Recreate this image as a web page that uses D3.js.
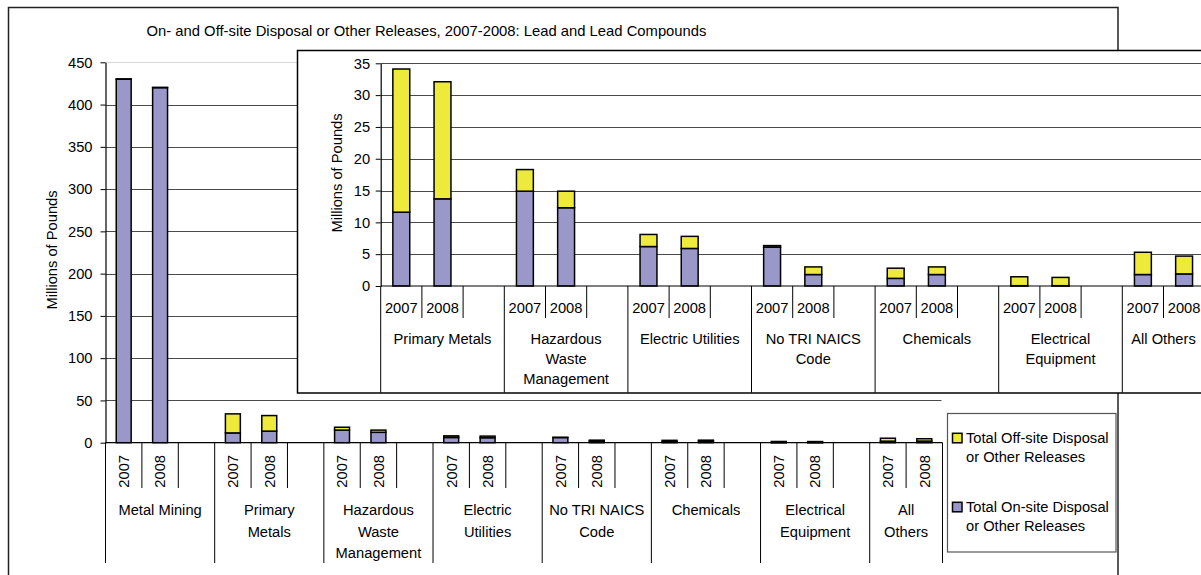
<!DOCTYPE html>
<html>
<head>
<meta charset="utf-8">
<script src="https://cdn.jsdelivr.net/npm/d3@7/dist/d3.min.js"></script>
<style>
  html, body { margin: 0; padding: 0; background: #fff; }
  svg { display: block; }
  text { font-family: "Liberation Sans", Arial, sans-serif; fill: #000; }
</style>
</head>
<body>
<svg id="chart" width="1201" height="575"></svg>
<script>
// ---------------- DATA ----------------
const chartTitle = "On- and Off-site Disposal or Other Releases, 2007-2008: Lead and Lead Compounds";
const yTitle = "Millions of Pounds";
const years = ["2007", "2008"];
const categories = ["Metal Mining", "Primary Metals", "Hazardous Waste Management", "Electric Utilities",
  "No TRI NAICS Code", "Chemicals", "Electrical Equipment", "All Others"];
const mainLabelLines = [["Metal Mining"], ["Primary", "Metals"], ["Hazardous", "Waste", "Management"],
  ["Electric", "Utilities"], ["No TRI NAICS", "Code"], ["Chemicals"], ["Electrical", "Equipment"], ["All", "Others"]];
const insetLabelLines = [["Primary Metals"], ["Hazardous", "Waste", "Management"], ["Electric Utilities"],
  ["No TRI NAICS", "Code"], ["Chemicals"], ["Electrical", "Equipment"], ["All Others"]];
// Millions of pounds
const onSite2007  = [430, 11.6, 14.9, 6.2, 6.1, 1.2, 0.05, 1.8];
const onSite2008  = [420, 13.7, 12.3, 5.9, 1.8, 1.8, 0.05, 1.9];
const offSite2007 = [0.4, 22.5, 3.4, 1.9, 0.25, 1.6, 1.4, 3.5];
const offSite2008 = [0.3, 18.4, 2.6, 1.9, 1.2, 1.2, 1.3, 2.8];
const mainTicks = [0, 50, 100, 150, 200, 250, 300, 350, 400, 450];
const insetTicks = [0, 5, 10, 15, 20, 25, 30, 35];
const legendItems = [
  { key: "off", lines: ["Total Off-site Disposal", "or Other Releases"] },
  { key: "on",  lines: ["Total On-site Disposal", "or Other Releases"] }
];

// ---------------- STYLE ----------------
const colors = { on: "#9a97c9", off: "#eeea3c" };
const FS = 14.7;

const svg = d3.select("#chart");

// records per category/year
function records(catIdx) {
  const out = [];
  catIdx.forEach((i) => {
    out.push({ slot: i + "|2007", cat: i, year: "2007", on: onSite2007[i], off: offSite2007[i] });
    out.push({ slot: i + "|2008", cat: i, year: "2008", on: onSite2008[i], off: offSite2008[i] });
  });
  return out;
}
function slotKeys(catIdx) {
  const keys = [];
  catIdx.forEach((i, j) => {
    keys.push(i + "|2007", i + "|2008");
    if (j < catIdx.length - 1) keys.push(i + "|gap");
  });
  return keys;
}
const stack = d3.stack().keys(["on", "off"]);

// ---------------- OUTER FRAME + TITLE ----------------
svg.append("rect").attr("x", 8.5).attr("y", 7.5).attr("width", 1109.5).attr("height", 620)
  .attr("fill", "#fff").attr("stroke", "#222").attr("stroke-width", 1.5);

svg.append("text").attr("x", 426.5).attr("y", 36).attr("text-anchor", "middle")
  .style("font-size", "14.8px").text(chartTitle);

// ---------------- generic chart drawer ----------------
function drawChart(g, opt) {
  const keys = slotKeys(opt.cats);
  const x = d3.scaleBand().domain(keys).range(opt.xRange).paddingInner(0).paddingOuter(0);
  const y = d3.scaleLinear().domain(opt.yDomain).range(opt.yRange);
  const step = x.step();
  const bw = step * 0.41;

  // gridlines
  g.append("g").selectAll("line").data(opt.ticks.filter(t => t > 0)).join("line")
    .attr("x1", opt.xRange[0]).attr("x2", opt.gridEnd)
    .attr("y1", d => Math.round(y(d)) + 0.5).attr("y2", d => Math.round(y(d)) + 0.5)
    .attr("stroke", d => (d === opt.yDomain[1] && opt.lightTop) ? "#d8d8d8" : "#4a4a4a")
    .attr("stroke-width", 1);

  // bars
  const recs = records(opt.cats);
  const series = stack(recs);
  g.append("g").selectAll("g").data(series).join("g")
    .attr("fill", s => colors[s.key])
    .selectAll("rect").data(s => s).join("rect")
    .attr("x", d => x(d.data.slot) + (step - bw) / 2)
    .attr("width", bw)
    .attr("y", d => y(d[1]))
    .attr("height", d => Math.max(0, y(d[0]) - y(d[1])))
    .attr("stroke", "#000").attr("stroke-width", 1.5);

  // y axis
  const ax = g.append("g").attr("transform", `translate(${opt.xRange[0]},0)`)
    .call(d3.axisLeft(y).tickValues(opt.ticks).tickSize(5).tickPadding(opt.tickPad).tickSizeOuter(0));
  ax.select(".domain").attr("stroke", "#000").attr("stroke-width", 1.2);
  ax.selectAll(".tick line").attr("stroke", "#000");
  ax.selectAll(".tick text").style("font-size", FS + "px").style("font-family", '"Liberation Sans", Arial, sans-serif');

  // x axis baseline
  g.append("line").attr("x1", opt.xRange[0]).attr("x2", opt.xRange[1])
    .attr("y1", y(0)).attr("y2", y(0)).attr("stroke", "#000").attr("stroke-width", 1.2);

  // dividers
  const nSlots = keys.length;
  const divs = d3.range(nSlots + 1).map(k => ({ k, pos: opt.xRange[0] + k * step, long: (k % 3 === 0) || k === nSlots }));
  g.append("g").selectAll("line").data(divs).join("line")
    .attr("x1", d => d.pos).attr("x2", d => d.pos)
    .attr("y1", y(0)).attr("y2", d => d.long ? opt.longEnd : opt.shortEnd)
    .attr("stroke", "#000").attr("stroke-width", 1);

  // year labels
  const yl = g.append("g").selectAll("text").data(recs).join("text")
    .style("font-size", FS + "px").text(d => d.year);
  if (opt.rotateYears) {
    yl.attr("transform", d => `translate(${x(d.slot) + step / 2},${opt.yearPos}) rotate(-90)`)
      .attr("text-anchor", "end").attr("dy", "0.36em");
  } else {
    yl.attr("x", d => x(d.slot) + step / 2).attr("y", opt.yearPos)
      .attr("text-anchor", "middle").attr("dy", "0.36em");
  }

  // category labels
  opt.cats.forEach((ci, j) => {
    const first = x(ci + "|2007");
    const cx = first + step; // center of the 2007+2008 pair ... adjust for 3-slot groups
    const groupSlots = (j < opt.cats.length - 1) ? 3 : 2;
    const center = first + step * groupSlots / 2;
    const t = g.append("text").attr("text-anchor", "middle").style("font-size", FS + "px");
    opt.labels[j].forEach((ln, li) => {
      t.append("tspan").attr("x", center).attr("y", opt.labelY + li * opt.labelGap)
        .attr("dy", "0.36em").text(ln);
    });
  });

  // y title
  g.append("text").attr("transform", `translate(${opt.yTitleX},${opt.yTitleY}) rotate(-90)`)
    .attr("text-anchor", "middle").attr("dy", "0.36em").style("font-size", FS + "px").text(yTitle);
}

// ---------------- MAIN CHART ----------------
const mainG = svg.append("g");
drawChart(mainG, {
  cats: d3.range(categories.length),
  xRange: [105.5, 942.5],
  gridEnd: 941.5,
  yDomain: [0, 450], yRange: [442.7, 62.3],
  ticks: mainTicks, tickPad: 8, lightTop: true,
  longEnd: 563, shortEnd: 488,
  rotateYears: true, yearPos: 455,
  labels: mainLabelLines, labelY: 510, labelGap: 21.3,
  yTitleX: 51.7, yTitleY: 250
});

// ---------------- LEGEND ----------------
const lg = svg.append("g");
lg.append("rect").attr("x", 947.5).attr("y", 413.5).attr("width", 168.5).attr("height", 138.5)
  .attr("fill", "#fff").attr("stroke", "#555").attr("stroke-width", 1.2);
const legendY = [438, 507];
legendItems.forEach((it, i) => {
  lg.append("rect").attr("x", 952.5).attr("y", legendY[i] - 4.7).attr("width", 9.5).attr("height", 9.5)
    .attr("fill", colors[it.key]).attr("stroke", "#000").attr("stroke-width", 1.5);
  it.lines.forEach((ln, li) => {
    lg.append("text").attr("x", 966).attr("y", legendY[i] + li * 18.7).attr("dy", "0.36em")
      .style("font-size", FS + "px").text(ln);
  });
});

// ---------------- INSET ----------------
const insetG = svg.append("g");
insetG.append("rect").attr("x", 297.5).attr("y", 50.5).attr("width", 960).attr("height", 342.5)
  .attr("fill", "#fff").attr("stroke", "#000").attr("stroke-width", 1.5);
drawChart(insetG, {
  cats: d3.range(1, categories.length),
  xRange: [380.7, 1204.7],
  gridEnd: 1210,
  yDomain: [0, 35], yRange: [286, 63.3],
  ticks: insetTicks, tickPad: 5.5, lightTop: false,
  longEnd: 392.5, shortEnd: 318,
  rotateYears: false, yearPos: 307.5,
  labels: insetLabelLines, labelY: 339, labelGap: 20,
  yTitleX: 336.7, yTitleY: 173
});
</script>
</body>
</html>
